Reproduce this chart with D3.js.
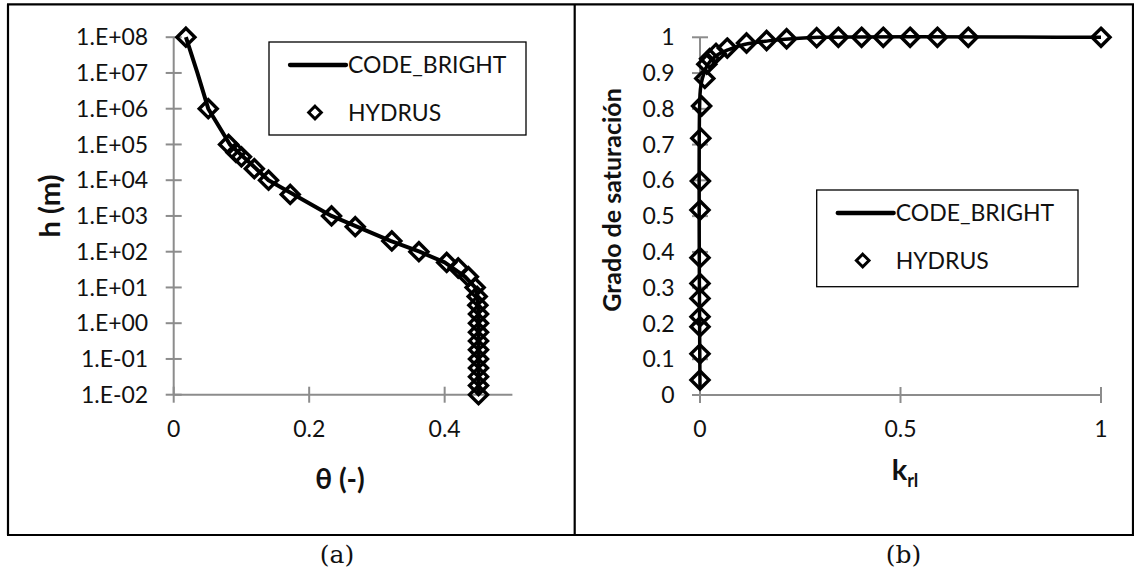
<!DOCTYPE html>
<html>
<head>
<meta charset="utf-8">
<script src="https://cdn.jsdelivr.net/npm/d3@7"></script>
<style>
  html, body { margin: 0; padding: 0; background: #fff; }
  svg { display: block; }
  .tick-label { font-family: Lato, "Open Sans", "Noto Sans", sans-serif; font-size: 23px; fill: #111; }
  .axis-title { font-family: Lato, "Noto Sans", "DejaVu Sans", sans-serif; font-weight: bold; fill: #111; }
  .legend-text { font-family: Lato, "Open Sans", "Noto Sans", sans-serif; font-size: 23px; fill: #111; }
  .caption { font-family: "DejaVu Serif", "Liberation Serif", serif; font-size: 25px; fill: #111; }
</style>
</head>
<body>
<svg id="chart" width="1134" height="574"></svg>
<script>
// ---- (a) water retention curve: theta vs suction h ----
const retentionTheta_CB = [0.018, 0.035, 0.051, 0.083, 0.14, 0.233, 0.32, 0.363, 0.40, 0.43, 0.445, 0.449, 0.45, 0.45];
const retentionH_CB     = [1e8, 1e7, 1e6, 1e5, 1e4, 1e3, 200, 100, 50, 20, 10, 5, 1, 0.01];

const retentionTheta_HY = [0.018, 0.051, 0.081, 0.092, 0.10, 0.119, 0.14, 0.172, 0.233, 0.268, 0.322, 0.362, 0.403, 0.42, 0.435, 0.445,
                           0.448, 0.449, 0.45, 0.45, 0.45, 0.45, 0.45, 0.45, 0.45, 0.45, 0.45, 0.45];
const retentionH_HY     = [1e8, 1e6, 1e5, 6e4, 4.5e4, 2.1e4, 1e4, 4e3, 1e3, 5e2, 2e2, 1e2, 50, 35, 20, 10,
                           5.6, 3.2, 1.8, 1, 0.56, 0.32, 0.18, 0.1, 0.056, 0.032, 0.018, 0.01];

const thetaTicks = [0, 0.2, 0.4];
const hTicks = [1e8, 1e7, 1e6, 1e5, 1e4, 1e3, 1e2, 1e1, 1e0, 1e-1, 1e-2];

// ---- (b) relative permeability vs degree of saturation ----
const krl_CB = [0, 0, 0.003, 0.01, 0.02, 0.04, 0.07, 0.11, 0.17, 0.23, 0.3, 1];
const sat_CB = [0.02, 0.84, 0.87, 0.9, 0.925, 0.948, 0.965, 0.98, 0.99, 0.996, 1, 1];

const krl_HY = [0, 0, 0, 0, 0, 0, 0, 0, 0.001, 0.002, 0.004, 0.012, 0.017, 0.024, 0.04, 0.068,
                0.116, 0.166, 0.216, 0.291, 0.345, 0.403, 0.457, 0.524, 0.592, 0.669, 1];
const sat_HY = [0.042, 0.115, 0.191, 0.219, 0.270, 0.312, 0.384, 0.517, 0.598, 0.718, 0.808, 0.885, 0.925, 0.94, 0.955, 0.97,
                0.984, 0.991, 0.996, 0.999, 1, 1, 1, 1, 1, 1, 1];

const krlTicks = [0, 0.5, 1];
const satTicks = [0, 0.1, 0.2, 0.3, 0.4, 0.5, 0.6, 0.7, 0.8, 0.9, 1];

const seriesNames = ["CODE_BRIGHT", "HYDRUS"];
const captions = ["(a)", "(b)"];

const svg = d3.select("#chart");
const AXIS = "#8c8c8c";

// Outer frame of the two-cell figure
const frame = svg.append("g").attr("stroke", "#000").attr("stroke-width", 2.2).attr("fill", "none");
frame.append("line").attr("x1", 7).attr("x2", 1134).attr("y1", 4.3).attr("y2", 4.3);
frame.append("line").attr("x1", 7).attr("x2", 1134).attr("y1", 535).attr("y2", 535);
frame.append("line").attr("x1", 8).attr("x2", 8).attr("y1", 4.3).attr("y2", 535);
frame.append("line").attr("x1", 574.7).attr("x2", 574.7).attr("y1", 4.3).attr("y2", 535);
frame.append("line").attr("x1", 1133).attr("x2", 1133).attr("y1", 4.3).attr("y2", 535);

function diamond(g, cx, cy, r, sw) {
  g.append("path")
    .attr("d", `M${cx},${cy - r}L${cx + r},${cy}L${cx},${cy + r}L${cx - r},${cy}Z`)
    .attr("fill", "none").attr("stroke", "#000").attr("stroke-width", sw)
    .attr("stroke-linejoin", "miter");
}

function drawAxes(g, x, y, xTicks, yTicks, yFmt, xFmt) {
  const [xa, xb] = x.range();
  const [yb, ya] = y.range();
  const ax = g.append("g").attr("stroke", AXIS).attr("stroke-width", 2);
  ax.append("line").attr("x1", xa).attr("x2", xb).attr("y1", yb).attr("y2", yb);
  ax.append("line").attr("x1", xa).attr("x2", xa).attr("y1", ya).attr("y2", yb);
  yTicks.forEach(t => ax.append("line").attr("x1", xa - 8).attr("x2", xa + 8).attr("y1", y(t)).attr("y2", y(t)));
  xTicks.forEach(t => ax.append("line").attr("x1", x(t)).attr("x2", x(t)).attr("y1", yb - 8).attr("y2", yb + 8));
  g.append("g").selectAll("text").data(yTicks).join("text")
    .attr("class", "tick-label").attr("text-anchor", "end")
    .attr("x", xa - 25.5).attr("y", d => y(d)).attr("dy", "0.35em").text(yFmt);
  g.append("g").selectAll("text").data(xTicks).join("text")
    .attr("class", "tick-label").attr("text-anchor", "middle")
    .attr("x", d => x(d)).attr("y", yb + 42).text(xFmt);
}

function drawLegend(g, bx, by, bw, bh) {
  g.append("rect").attr("x", bx).attr("y", by).attr("width", bw).attr("height", bh)
    .attr("fill", "#fff").attr("stroke", "#000").attr("stroke-width", 1.3);
  const ly1 = by + 23, ly2 = by + 70.5;
  g.append("line").attr("x1", bx + 21).attr("x2", bx + 77).attr("y1", ly1).attr("y2", ly1)
    .attr("stroke", "#000").attr("stroke-width", 4.3).attr("stroke-linecap", "round");
  g.append("text").attr("class", "legend-text").attr("x", bx + 79).attr("y", ly1).attr("dy", "0.36em").text(seriesNames[0]);
  diamond(g, bx + 46, ly2, 6.3, 3);
  g.append("text").attr("class", "legend-text").attr("x", bx + 79).attr("y", ly2).attr("dy", "0.36em").text(seriesNames[1]);
}

// ---------------- Panel (a) ----------------
const xA = d3.scaleLinear().domain([0, 0.5]).range([173.7, 512.4]);
const yA = d3.scaleLog().domain([1e-2, 1e8]).range([394.7, 37.2]);
const gA = svg.append("g");

const fmtSci = d => {
  const e = Math.round(Math.log10(d));
  return "1.E" + (e < 0 ? "-" : "+") + String(Math.abs(e)).padStart(2, "0");
};
drawAxes(gA, xA, yA, thetaTicks, hTicks, fmtSci, d => d3.format("")(d));

const lineA = d3.line().x(d => xA(d[0])).y(d => yA(d[1]));
gA.append("path").datum(d3.zip(retentionTheta_CB, retentionH_CB))
  .attr("d", lineA).attr("fill", "none").attr("stroke", "#000").attr("stroke-width", 4)
  .attr("stroke-linejoin", "round");
const mA = gA.append("g");
d3.zip(retentionTheta_HY, retentionH_HY).forEach(([t, h]) => diamond(mA, xA(t), yA(h), 9, 3.4));

drawLegend(gA, 269, 42, 257, 93);

gA.append("text").attr("class", "axis-title").attr("font-size", 29)
  .attr("transform", "translate(60,206) rotate(-90)").attr("text-anchor", "middle").text("h (m)");
gA.append("text").attr("class", "axis-title").attr("font-size", 28)
  .attr("x", 340).attr("y", 489).attr("text-anchor", "middle").text("θ (-)");
gA.append("text").attr("class", "caption").attr("x", 337).attr("y", 563).attr("text-anchor", "middle").text(captions[0]);

// ---------------- Panel (b) ----------------
const xB = d3.scaleLinear().domain([0, 1]).range([700, 1101]);
const yB = d3.scaleLinear().domain([0, 1]).range([395, 37.3]);
const gB = svg.append("g");

drawAxes(gB, xB, yB, krlTicks, satTicks, d => d3.format("")(+d.toFixed(1)), d => d3.format("")(d));

gB.append("path").datum(d3.zip(krl_CB, sat_CB))
  .attr("d", d3.line().x(d => xB(d[0])).y(d => yB(d[1])).curve(d3.curveCatmullRom.alpha(0.5)))
  .attr("fill", "none").attr("stroke", "#000").attr("stroke-width", 3.5).attr("stroke-linejoin", "round");
const mB = gB.append("g");
d3.zip(krl_HY, sat_HY).forEach(([k, s]) => diamond(mB, xB(k), yB(s), 9, 3.4));

drawLegend(gB, 816.7, 190, 261.3, 96.7);

gB.append("text").attr("class", "axis-title").attr("font-size", 25)
  .attr("transform", "translate(621,200) rotate(-90)").attr("text-anchor", "middle").text("Grado de saturación");
const kt = gB.append("text").attr("class", "axis-title").attr("x", 905).attr("y", 480).attr("text-anchor", "middle");
kt.append("tspan").attr("font-size", 29).text("k");
kt.append("tspan").attr("font-size", 18).attr("dy", 7).text("rl");
gB.append("text").attr("class", "caption").attr("x", 903.5).attr("y", 563).attr("text-anchor", "middle").text(captions[1]);
</script>
</body>
</html>
